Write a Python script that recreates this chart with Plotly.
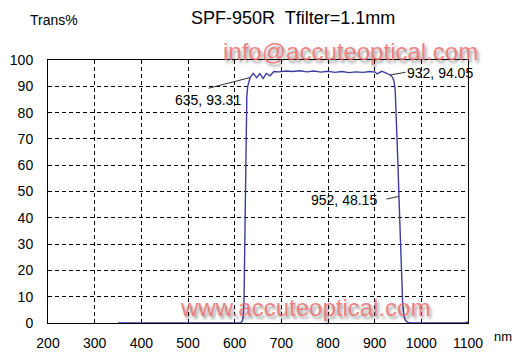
import plotly.graph_objects as go

# ---- data ----
wavelength = [350, 500, 600, 612, 616, 618, 620, 621, 622, 623, 624, 625, 626, 628, 631, 633,
              640, 647, 654, 661, 668, 676, 684, 695, 710, 725, 740, 755, 770, 785, 800, 815,
              830, 845, 860, 875, 890, 901, 905, 910, 915, 920, 926, 933, 938, 941, 944, 946,
              948, 950, 952, 954, 956, 958, 960, 963, 966, 970, 975, 1000, 1050, 1095, 1100]
transmittance = [0, 0, 0, 0, 0.5, 2, 8, 20, 35, 50, 65, 78, 86, 90, 92.5, 93.3,
                 94.9, 93.3, 94.8, 93.0, 94.9, 94.0, 95.6, 95.5, 95.8, 95.6, 95.9, 95.5, 95.8, 95.4, 95.7, 95.3,
                 95.6, 95.2, 95.5, 95.3, 95.6, 95.4, 94.7, 95.3, 95.7, 95.4, 95.0, 94.3, 93.5, 92.2, 88.6, 81,
                 70, 60, 48.15, 36, 25, 15, 7.5, 2.5, 1, 0.3, 0, 0, 0, 0.1, 0.4]

x_ticks = [200, 300, 400, 500, 600, 700, 800, 900, 1000, 1100]
y_ticks = [0, 10, 20, 30, 40, 50, 60, 70, 80, 90, 100]

point_labels = ["635, 93.31", "932, 94.05", "952, 48.15"]
point_x = [633, 933, 952]
point_y = [93.31, 94.3, 48.15]

title_text = "SPF-950R  Tfilter=1.1mm"
y_title = "Trans%"
x_unit = "nm"
watermark_top = "info@accuteoptical.com"
watermark_bottom = "www.accuteoptical.com"

FONT = "Liberation Sans, Arial, sans-serif"

# page body has an 8px default margin, so the figure is drawn 8px smaller
W, H = 512, 351
PL, PT, PW, PH = 48, 60, 420, 263   # plot area in reference-window pixels

fig = go.Figure()
fig.add_trace(go.Scatter(x=wavelength, y=transmittance, mode="lines",
                         line=dict(color="#3c3ca0", width=1.4), hoverinfo="skip",
                         showlegend=False))

grid = dict(showgrid=True, gridcolor="black", gridwidth=1, griddash="4px,3px")

fig.update_layout(
    width=W, height=H,
    margin=dict(l=PL - 8, r=W - (PL - 8) - PW, t=PT - 8, b=H - (PT - 8) - PH, autoexpand=False),
    paper_bgcolor="white", plot_bgcolor="white",
    font=dict(family=FONT, size=14, color="black"),
    xaxis=dict(range=[200, 1100], tickvals=x_ticks, ticktext=[str(v) for v in x_ticks],
               showline=True, linecolor="black", linewidth=1, mirror=True, automargin=False,
               ticks="", ticklabelstandoff=7, zeroline=False, **grid),
    yaxis=dict(range=[0, 100], tickvals=y_ticks, ticktext=[str(v) for v in y_ticks],
               showline=True, linecolor="black", linewidth=1, mirror=True, automargin=False,
               ticks="", ticklabelstandoff=11, zeroline=False, **grid),
)

anns = []
# title and axis captions (reference pixel positions, converted below)
anns.append(dict(text=title_text, x=293, y=18, font=dict(size=18)))
anns.append(dict(text=y_title, x=54, y=20, font=dict(size=14)))
anns.append(dict(text=x_unit, x=503, y=336, font=dict(size=13)))
# watermarks
wm_font = dict(size=24, color="rgba(238,110,110,0.85)",
               shadow="2px 3px 3px rgba(0,0,0,0.45)")
anns.append(dict(text=watermark_top, x=350, y=51, font=wm_font))
anns.append(dict(text=watermark_bottom, x=305, y=307, font=wm_font))

pix_anns = []
for a in anns:
    a = dict(a)
    a.update(xref="paper", yref="paper", showarrow=False,
             xanchor="center", yanchor="middle")
    a["x"] = (a["x"] - PL) / PW
    a["y"] = (PT + PH - a["y"]) / PH
    pix_anns.append(a)

# point labels with leader lines
label_offsets = [(-42, 22), (50, -2), (-55, 4)]   # text centre relative to point (px)
leader_offsets = [(-43, 11), (17, -3), (-14, 3)]  # leader tail relative to point (px)
for lbl, px, py, (tx, ty), (lx, ly) in zip(point_labels, point_x, point_y, label_offsets, leader_offsets):
    pix_anns.append(dict(x=px, y=py, xref="x", yref="y", text="", showarrow=True,
                         ax=lx, ay=ly, arrowhead=0, arrowwidth=1, arrowcolor="#333333",
                         standoff=0, startstandoff=0))
    pix_anns.append(dict(x=px, y=py, xref="x", yref="y", text=lbl, showarrow=False,
                         xshift=tx, yshift=-ty, font=dict(size=14)))

fig.update_layout(annotations=pix_anns)
fig.write_html("out.html")
